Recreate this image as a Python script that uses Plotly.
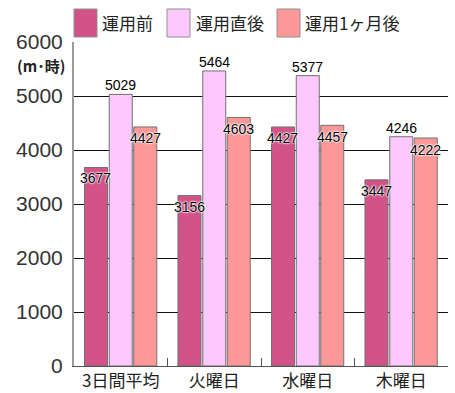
import plotly.graph_objects as go

categories = ["3日間平均", "火曜日", "水曜日", "木曜日"]
series_names = ["運用前", "運用直後", "運用1ヶ月後"]
before = [3677, 3156, 4427, 3447]
just_after = [5029, 5464, 5377, 4246]
month_after = [4427, 4603, 4457, 4222]
y_ticks = [0, 1000, 2000, 3000, 4000, 5000, 6000]

series = [before, just_after, month_after]
colors = ["#d25388", "#fdc8fd", "#fd9898"]
offsets = [-0.265, 0.0, 0.262]
label_shift = [-11, 9, -11.5]
bar_w = 0.246

W, H = 455, 393
ml, mr, mt, mb = 74, 7, 42, 27
pw, ph = W - ml - mr, H - mt - mb

fig = go.Figure()
for name, vals, col, off in zip(series_names, series, colors, offsets):
    fig.add_trace(go.Bar(
        x=[i + off for i in range(len(categories))], y=vals, width=bar_w,
        name=name, marker=dict(color=col, line=dict(color="#707070", width=1)),
        showlegend=False, hoverinfo="skip"))

ann = []
shadow = "0 0 2px #fff, 0 0 2px #fff, 0 0 2px #fff, 0 0 1px #fff"
for vals, off, ys in zip(series, offsets, label_shift):
    for i, v in enumerate(vals):
        ann.append(dict(x=i + off, y=v, xref="x", yref="y", text=str(v), showarrow=False,
                        yanchor="middle", xanchor="center", yshift=ys,
                        font=dict(family="Liberation Sans, Arial", size=14, color="#000", shadow=shadow)))

# unit label
ann.append(dict(x=-7 / pw, y=1 - (65 - mt) / ph, xref="paper", yref="paper", text="(m･時)",
                showarrow=False, xanchor="right", yanchor="middle",
                font=dict(family="Noto Sans CJK JP", size=15, color="#222", weight=600)))

# legend (manual)
shapes = []
leg = [(74, 97, 100), (167, 190, 194), (277, 300, 303)]
for (x0, x1, tx), name, col in zip(leg, series_names, colors):
    shapes.append(dict(type="rect", xref="paper", yref="paper",
                       x0=(x0 - ml) / pw, x1=(x1 - ml) / pw,
                       y0=1 + (mt - 37) / ph, y1=1 + (mt - 9) / ph,
                       fillcolor=col, line=dict(color="#909090", width=1)))
    ann.append(dict(x=(tx - ml) / pw, y=1 + (mt - 23) / ph,
                    xref="paper", yref="paper", text=name, showarrow=False,
                    xanchor="left", yanchor="middle",
                    font=dict(family="Noto Sans CJK JP", size=17, color="#222")))

fig.update_layout(
    width=W, height=H, margin=dict(l=ml, r=mr, t=mt, b=mb, autoexpand=False),
    paper_bgcolor="white", plot_bgcolor="white",
    annotations=ann, shapes=shapes, showlegend=False,
    xaxis=dict(range=[-0.5, len(categories) - 0.5], tickvals=list(range(len(categories))),
               ticktext=categories, ticks="", showgrid=False, zeroline=False, automargin=False,
               showline=True, linecolor="#555", linewidth=1,
               tickfont=dict(family="Noto Sans CJK JP", size=17, color="#222"),
               minor=dict(tickvals=[0.5, 1.5, 2.5], ticks="inside", ticklen=8,
                          tickcolor="#555", tickwidth=1, showgrid=False)),
    yaxis=dict(range=[0, 6000], tickvals=y_ticks, ticks="", showgrid=True, automargin=False,
               gridcolor="#111", gridwidth=1, zeroline=False,
               showline=True, linecolor="#9a9a9a", linewidth=2,
               tickfont=dict(family="Liberation Sans, Arial", size=21, color="#333"),
               ticklabelstandoff=5),
)
fig.write_html("out.html", config={"displayModeBar": False},
               post_script="document.body.style.margin='0';document.body.style.padding='0';")
